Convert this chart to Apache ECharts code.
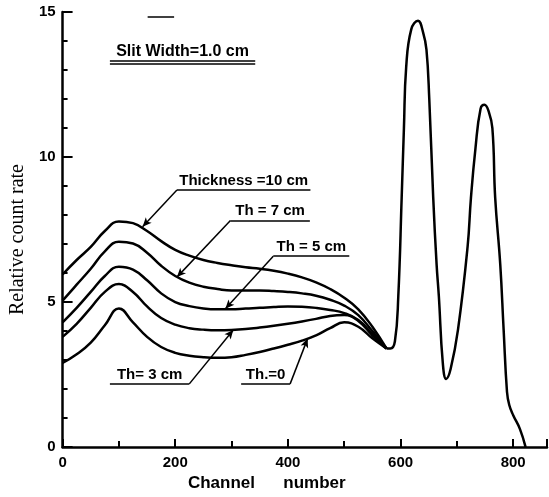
<!DOCTYPE html>
<html>
<head>
<meta charset="utf-8">
<script src="https://cdn.jsdelivr.net/npm/echarts@6/dist/echarts.min.js"></script>
<style>
  html, body { margin: 0; padding: 0; background: #fff; }
  #chart { width: 549px; height: 497px; }
</style>
</head>
<body>
<div id="chart"></div>
<script>
// channel positions shared by the five low-energy curves
var channels = [0, 25, 50, 75, 100, 125, 150, 175, 200, 225, 250, 275, 300, 325, 350, 375, 400, 425, 450, 475, 500, 525, 550, 575];
var th10 = [5.95, 6.45, 6.9, 7.45, 7.78, 7.72, 7.45, 7.1, 6.8, 6.6, 6.45, 6.35, 6.27, 6.2, 6.15, 6.08, 5.98, 5.85, 5.68, 5.45, 5.15, 4.75, 4.15, 3.4];
var th7  = [5.05, 5.6, 6.15, 6.75, 7.08, 7.02, 6.7, 6.25, 5.9, 5.67, 5.53, 5.45, 5.4, 5.4, 5.4, 5.38, 5.35, 5.3, 5.22, 5.08, 4.88, 4.55, 4.0, 3.4];
var th5  = [4.3, 4.8, 5.35, 5.9, 6.22, 6.12, 5.75, 5.3, 5.0, 4.86, 4.78, 4.75, 4.75, 4.78, 4.8, 4.83, 4.85, 4.84, 4.8, 4.73, 4.62, 4.38, 3.9, 3.4];
var th3  = [3.8, 4.25, 4.8, 5.35, 5.62, 5.35, 4.85, 4.45, 4.22, 4.1, 4.05, 4.03, 4.04, 4.07, 4.12, 4.18, 4.25, 4.33, 4.42, 4.52, 4.55, 4.35, 3.85, 3.4];
var th0  = [2.9, 3.2, 3.6, 4.2, 4.78, 4.3, 3.8, 3.45, 3.25, 3.15, 3.1, 3.08, 3.1, 3.18, 3.28, 3.4, 3.53, 3.67, 3.85, 4.1, 4.3, 4.15, 3.75, 3.4];

// common part (all thicknesses)
var peakChannels = [575, 582, 590, 596, 602, 606, 610, 619, 631, 640, 646, 651, 658, 664, 668, 675, 681, 689, 702, 719, 725, 733, 742, 749, 756, 763, 768, 777, 783, 789, 793, 800, 812, 822];
var peakValues   = [3.4, 3.4, 3.65, 5.2, 8.6, 11, 13.1, 14.4, 14.7, 14.3, 13.7, 12, 8.6, 6.3, 5.2, 2.9, 2.35, 2.7, 4.05, 6.9, 8.6, 10.3, 11.66, 11.8, 11.6, 11.0, 8.6, 6.3, 4.05, 1.9, 1.45, 1.1, 0.62, 0];

var xTicks = [0, 200, 400, 600, 800];
var yTicks = [0, 5, 10, 15];

// annotations: [text, underline start x, end x, y, arrow tip x, tip y, leader from start(true)/end(false)]
var notes = [
  ['Thickness =10 cm', 203, 440, 8.86, 142, 7.6, true],
  ['Th = 7 cm', 298, 439, 7.81, 203, 5.86, true],
  ['Th = 5 cm', 374, 509, 6.58, 289, 4.77, true],
  ['Th= 3 cm', 84, 225, 2.18, 303, 4.04, false],
  ['Th.=0', 317, 404, 2.18, 435, 3.74, false]
];

var font = '"Liberation Sans", sans-serif';

function pairs(xs, ys) {
  return xs.map(function (x, i) { return [x, ys[i]]; });
}

var marks = [];
notes.forEach(function (n) {
  marks.push([
    { coord: [n[1], n[3]], symbol: 'none',
      label: { show: true, position: 'insideMiddleTop', distance: 2, formatter: n[0],
               color: '#000', fontSize: 15, fontFamily: font, fontWeight: 'bold' } },
    { coord: [n[2], n[3]], symbol: 'none' }
  ]);
  var sx = n[6] ? n[1] : n[2];
  marks.push([
    { coord: [sx, n[3]], symbol: 'none' },
    { coord: [n[4], n[5]], symbol: 'arrow', symbolSize: [6, 9] }
  ]);
});
// slit width title with double underline
marks.push([
  { coord: [84, 13.33], symbol: 'none',
    label: { show: true, position: 'insideMiddleTop', distance: 1, formatter: 'Slit Width=1.0 cm',
             color: '#000', fontSize: 16, fontFamily: font, fontWeight: 'bold' } },
  { coord: [342, 13.33], symbol: 'none' }
]);
marks.push([{ coord: [84, 13.22], symbol: 'none' }, { coord: [342, 13.22], symbol: 'none' }]);
marks.push([{ coord: [151, 14.83], symbol: 'none' }, { coord: [198, 14.83], symbol: 'none' }]);

function curve(name, data) {
  return {
    name: name,
    type: 'line',
    data: data,
    smooth: 0.45,
    symbol: 'none',
    lineStyle: { color: '#000', width: 2.5 }
  };
}

var chart = echarts.init(document.getElementById('chart'));
var common = curve('common', pairs(peakChannels, peakValues));
common.markLine = {
  silent: true,
  symbol: 'none',
  lineStyle: { color: '#000', width: 1.5, type: 'solid' },
  label: { show: false },
  data: marks
};

chart.setOption({
  animation: false,
  backgroundColor: '#fff',
  grid: { left: 57, right: 2, top: 12, bottom: 45 },
  xAxis: {
    type: 'value',
    min: 0,
    max: 860,
    interval: 200,
    name: 'Channel      number',
    nameLocation: 'middle',
    nameGap: 25,
    nameTextStyle: { color: '#000', fontSize: 17, fontFamily: font, fontWeight: 'bold', padding: [0, 76, 0, 0] },
    axisLine: { lineStyle: { color: '#000', width: 2.5 } },
    axisTick: { inside: true, length: 8, lineStyle: { color: '#000', width: 2 } },
    minorTick: { show: true, splitNumber: 2, length: 6, lineStyle: { color: '#000', width: 2 } },
    axisLabel: {
      color: '#000', fontSize: 15, fontFamily: font, fontWeight: 'bold', margin: 8,
      showMaxLabel: false,
      formatter: function (v) { return xTicks.indexOf(v) >= 0 ? v : ''; }
    },
    splitLine: { show: false }
  },
  yAxis: {
    type: 'value',
    min: 0,
    max: 15,
    interval: 5,
    name: 'Relative count rate',
    nameLocation: 'middle',
    nameGap: 26,
    nameTextStyle: { color: '#000', fontSize: 20, fontFamily: '"Liberation Serif", serif', padding: [0, 20, 0, 0] },
    axisLine: { show: true, lineStyle: { color: '#000', width: 2.5 } },
    axisTick: { show: true, inside: true, length: 10, lineStyle: { color: '#000', width: 2 } },
    minorTick: { show: true, splitNumber: 5, length: 5, lineStyle: { color: '#000', width: 2 } },
    axisLabel: {
      color: '#000', fontSize: 15, fontFamily: font, fontWeight: 'bold', margin: 7,
      formatter: function (v) { return yTicks.indexOf(v) >= 0 ? v : ''; }
    },
    splitLine: { show: false }
  },
  series: [
    curve('Thickness = 10 cm', pairs(channels, th10)),
    curve('Th = 7 cm', pairs(channels, th7)),
    curve('Th = 5 cm', pairs(channels, th5)),
    curve('Th = 3 cm', pairs(channels, th3)),
    curve('Th = 0', pairs(channels, th0)),
    common
  ]
});
</script>
</body>
</html>
